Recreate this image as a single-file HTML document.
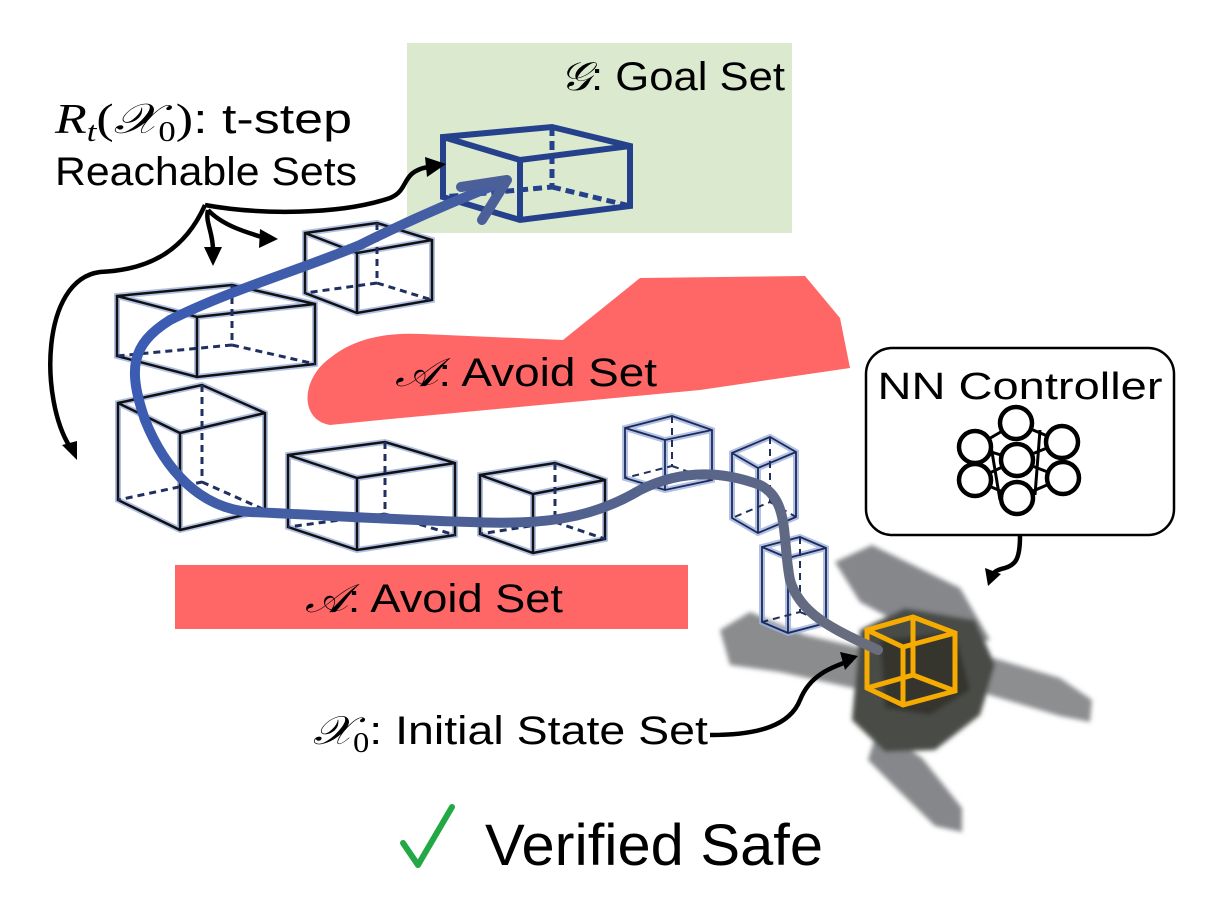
<!DOCTYPE html>
<html><head><meta charset="utf-8"><style>
html,body{margin:0;padding:0;background:#fff;}
svg{display:block;}
text{font-family:"Liberation Sans",sans-serif;fill:#000;}
.m{font-family:"Liberation Serif",serif;font-style:italic;}
</style></head><body>
<svg width="1214" height="913" viewBox="0 0 1214 913" xmlns="http://www.w3.org/2000/svg">
<defs>
<linearGradient id="tg" gradientUnits="userSpaceOnUse" x1="150" y1="300" x2="880" y2="650">
<stop offset="0" stop-color="#3a5cb4"/><stop offset="0.5" stop-color="#4c5f94"/><stop offset="1" stop-color="#6a6e7c"/>
</linearGradient>
<filter id="bl" x="-20%" y="-20%" width="140%" height="140%"><feGaussianBlur stdDeviation="2.5"/></filter>
</defs>

<rect x="407" y="43" width="385" height="190" fill="#dbeacf"/>
<text x="560" y="90" font-size="40" textLength="225" lengthAdjust="spacingAndGlyphs"><tspan class="m">𝒢</tspan>: Goal Set</text>

<path d="M330,425 C300,420 300,380 330,358 C352,340 382,332 422,334 L563,340 L640,278 L805,276 L840,318 L850,368 L700,390 L380,420 Z" fill="#ff6666"/>
<text x="395" y="386" font-size="40" textLength="262" lengthAdjust="spacingAndGlyphs"><tspan class="m">𝒜</tspan>: Avoid Set</text>
<rect x="175" y="565" width="513" height="64" fill="#ff6666"/>
<text x="305" y="612" font-size="40" textLength="258" lengthAdjust="spacingAndGlyphs"><tspan class="m">𝒜</tspan>: Avoid Set</text>

<!-- drone -->
<g filter="url(#bl)">
<path d="M720,630 L750,612 L805,635 L862,648 L862,690 L780,672 L730,665 Z" fill="#8a8c8e"/>
<path d="M835,562 L872,545 L960,588 L990,640 L950,650 L860,602 Z" fill="#85878b"/>
<path d="M960,648 L1060,678 L1092,700 L1090,722 L1060,716 L980,692 Z" fill="#8c8e90"/>
<path d="M878,728 L922,758 L962,808 L962,832 L935,826 L898,790 L868,760 Z" fill="#85878a"/>
<path d="M860,630 L905,608 L975,620 L995,665 L980,715 L935,750 L885,752 L852,720 Z" fill="#4a4c47"/>
<path d="M880,640 L955,632 L970,690 L930,715 L885,708 Z" fill="#34362f"/>
</g>

<g fill="none" stroke-linejoin="miter">
<g stroke="#9fb2dd" stroke-width="6" opacity="0.8">
<path d="M118,403 L202,385 L265,413 L265,510 L180,530 L118,500 Z M118,403 L180,433 L265,413 M180,433 L180,530"/>
<path d="M117,296 L232,285 L315,304 L315,364 L197,377 L117,356 Z M117,296 L197,317 L315,304 M197,317 L197,377"/>
<path d="M305,233 L377,223 L432,240 L432,300 L357,313 L305,293 Z M305,233 L357,253 L432,240 M357,253 L357,313"/>
<path d="M288,455 L385,442 L455,463 L455,535 L357,550 L288,527 Z M288,455 L357,478 L455,463 M357,478 L357,550"/>
<path d="M480,475 L555,463 L605,480 L605,539 L533,553 L480,534 Z M480,475 L533,494 L605,480 M533,494 L533,553"/>
<path d="M625,428 L672,416 L712,430 L712,480 L665,490 L625,478 Z M625,428 L665,440 L712,430 M665,440 L665,490"/>
<path d="M732,453 L770,437 L796,452 L796,517 L758,533 L732,518 Z M732,453 L758,468 L796,452 M758,468 L758,533"/>
<path d="M762,547 L800,537 L826,548 L826,623 L788,633 L762,622 Z M762,547 L788,558 L826,548 M788,558 L788,633"/>
</g>
<g stroke="#111" stroke-width="2.5">
<path d="M118,403 L202,385 L265,413 L265,510 L180,530 L118,500 Z M118,403 L180,433 L265,413 M180,433 L180,530"/>
<path d="M117,296 L232,285 L315,304 L315,364 L197,377 L117,356 Z M117,296 L197,317 L315,304 M197,317 L197,377"/>
<path d="M305,233 L377,223 L432,240 L432,300 L357,313 L305,293 Z M305,233 L357,253 L432,240 M357,253 L357,313"/>
<path d="M288,455 L385,442 L455,463 L455,535 L357,550 L288,527 Z M288,455 L357,478 L455,463 M357,478 L357,550"/>
<path d="M480,475 L555,463 L605,480 L605,539 L533,553 L480,534 Z M480,475 L533,494 L605,480 M533,494 L533,553"/>
</g>
<g stroke="#1b2a5a" stroke-width="1.8">
<path d="M625,428 L672,416 L712,430 L712,480 L665,490 L625,478 Z M625,428 L665,440 L712,430 M665,440 L665,490"/>
<path d="M732,453 L770,437 L796,452 L796,517 L758,533 L732,518 Z M732,453 L758,468 L796,452 M758,468 L758,533"/>
<path d="M762,547 L800,537 L826,548 L826,623 L788,633 L762,622 Z M762,547 L788,558 L826,548 M788,558 L788,633"/>
</g>
<g stroke="#1f2f60" stroke-width="3" stroke-dasharray="7,5">
<path d="M202,385 L202,482 L118,500 M202,482 L265,510"/>
<path d="M232,285 L232,345 L117,356 M232,345 L315,364"/>
<path d="M377,223 L377,283 L305,293 M377,283 L432,300"/>
<path d="M385,442 L385,514 L288,527 M385,514 L455,535"/>
<path d="M555,463 L555,522 L480,534 M555,522 L605,539"/>
<path d="M672,416 L672,466 L625,478 M672,466 L712,480" stroke-width="2"/>
<path d="M770,437 L770,502 L732,518 M770,502 L796,517" stroke-width="2"/>
<path d="M800,537 L800,612 L762,622 M800,612 L826,623" stroke-width="2"/>
</g>
<path d="M443,137 L552,127 L630,146 L630,206 L520,220 L443,197 Z M443,137 L520,160 L630,146 M520,160 L520,220" stroke="#26418c" stroke-width="6"/>
<path d="M552,127 L552,187 L443,197 M552,187 L630,206" stroke="#26418c" stroke-width="5" stroke-dasharray="9,5"/>
<path d="M867,630 L913,617 L955,633 L955,691 L903,705 L867,688 Z M867,630 L903,647 L955,633 M903,647 L903,705 M913,617 L913,675 L867,688 M913,675 L955,691" stroke="#f5ab00" stroke-width="5"/>
</g>

<path d="M878,650 C835,630 800,615 790,580 C782,540 790,500 760,485 C720,470 680,470 640,490 C590,520 540,525 470,522 C400,520 320,515 250,512 C200,508 165,470 145,420 C128,370 130,345 170,320 C230,290 300,270 360,245 C420,215 470,195 500,183" fill="none" stroke="url(#tg)" stroke-width="10" stroke-linecap="round"/>
<path d="M461,187 L507,180 L482,220" fill="none" stroke="#4b5f98" stroke-width="10" stroke-linecap="round" stroke-linejoin="round"/>

<g fill="none" stroke="#000" stroke-width="4.5">
<path d="M205,205 C260,215 340,215 390,198 C410,190 400,172 428,167"/>
<path d="M208,210 C222,225 245,232 265,238"/>
<path d="M208,210 C205,222 213,232 213,250"/>
<path d="M205,205 C185,250 150,270 100,272 C40,280 40,400 70,447"/>
<path d="M710,735 C760,735 790,725 800,700 C810,675 830,668 852,660"/>
<path d="M1020,536 C1020,560 1015,565 1005,568 C995,570 992,574 992,578"/>
</g>
<g fill="#000">
<path d="M446,164 L425,157 L427,177 Z"/>
<path d="M278,239 L260,229 L259,248 Z"/>
<path d="M213,266 L204,247 L222,247 Z"/>
<path d="M77,460 L62,445 L77,441 Z"/>
<path d="M858,656 L840,652 L845,670 Z"/>
<path d="M988,586 L985,568 L1001,574 Z"/>
</g>

<rect x="866" y="348" width="308" height="187" rx="26" fill="#fff" stroke="#000" stroke-width="2.5"/>
<text x="1020" y="399" font-size="38" text-anchor="middle" textLength="285" lengthAdjust="spacingAndGlyphs">NN Controller</text>
<g fill="#fff" stroke="#000" stroke-width="4.5">
<path d="M975,447 L1016,423 L1062,442 M975,480 L1017,498 L1063,478 M990,440 L1000,500 M1040,430 L1035,495 M975,447 L1017,460 L1063,478 M975,480 L1017,460 L1062,442" fill="none" stroke-width="3"/>
<circle cx="1016" cy="423" r="16"/><circle cx="1017" cy="460" r="16"/><circle cx="1017" cy="498" r="16"/>
<circle cx="975" cy="447" r="16"/><circle cx="975" cy="480" r="16"/>
<circle cx="1062" cy="442" r="16"/><circle cx="1063" cy="478" r="16"/>
</g>

<text x="55" y="133" font-size="42" textLength="297" lengthAdjust="spacingAndGlyphs"><tspan class="m">R</tspan><tspan class="m" font-size="28" dy="8">t</tspan><tspan dy="-8" font-family="Liberation Serif">(</tspan><tspan class="m">𝒳</tspan><tspan font-family="Liberation Serif" font-size="28" dy="8">0</tspan><tspan dy="-8" font-family="Liberation Serif">)</tspan>: t-step</text>
<text x="55" y="185" font-size="40" textLength="302" lengthAdjust="spacingAndGlyphs">Reachable Sets</text>
<text x="313" y="744" font-size="40" textLength="395" lengthAdjust="spacingAndGlyphs"><tspan class="m">𝒳</tspan><tspan font-family="Liberation Serif" font-size="28" dy="8">0</tspan><tspan dy="-8">: Initial State Set</tspan></text>

<polyline points="403,843 418,865 452,807" fill="none" stroke="#22a845" stroke-width="6" stroke-linecap="round" stroke-linejoin="round"/>
<text x="485" y="865" font-size="58" textLength="338" lengthAdjust="spacingAndGlyphs">Verified Safe</text>
</svg>
</body></html>
